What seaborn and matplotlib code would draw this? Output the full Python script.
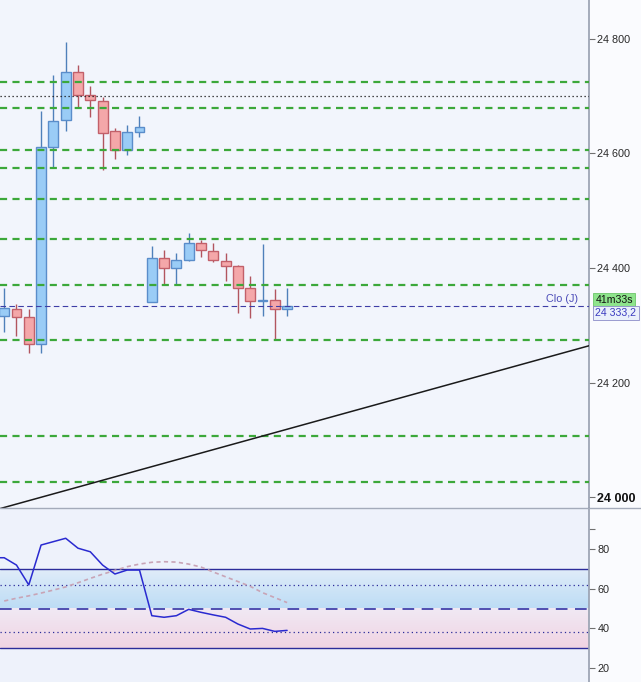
import numpy as np
import pandas as pd
import matplotlib
matplotlib.use("Agg")
import matplotlib.pyplot as plt
from matplotlib.colors import LinearSegmentedColormap
from matplotlib.lines import Line2D
import seaborn as sns

# candles (index, open, high, low, close)
opens = [24316, 24328, 24314, 24267, 24611, 24658, 24742, 24702, 24691, 24639, 24606, 24637,
         24340, 24417, 24400, 24414, 24443, 24429, 24412, 24403, 24366, 24342, 24345, 24328]
highs = [24365, 24337, 24328, 24674, 24737, 24794, 24755, 24718, 24699, 24644, 24649, 24666,
         24438, 24431, 24426, 24461, 24449, 24443, 24426, 24405, 24386, 24442, 24363, 24365]
lows = [24289, 24282, 24252, 24252, 24575, 24639, 24680, 24664, 24572, 24591, 24598, 24629,
        24340, 24372, 24372, 24412, 24419, 24410, 24378, 24322, 24312, 24316, 24274, 24316]
closes = [24330, 24314, 24267, 24611, 24656, 24742, 24702, 24693, 24635, 24606, 24637, 24646,
          24417, 24400, 24414, 24443, 24431, 24414, 24403, 24366, 24342, 24345, 24328, 24333.2]

# horizontal levels
green_levels = [24724, 24680, 24606, 24575, 24520, 24451, 24370, 24274, 24106, 24026]
dotted_level = 24700
last_close = 24333.2
trend_x = [-1, 48]
trend_y = [23976, 24267]
price_ticks = [24000, 24200, 24400, 24600, 24800]
price_labels = ["24 000", "24 200", "24 400", "24 600", "24 800"]

# RSI panel
rsi = [75.6, 71.9, 61.9, 82.0, 83.7, 85.4, 80.4, 78.6, 71.9, 67.4, 69.4, 69.4,
       46.4, 45.6, 46.4, 49.6, 48.1, 46.8, 45.6, 42.2, 39.7, 40.0, 38.5, 39.0]
rsi_signal = [53.8, 55.2, 56.4, 57.8, 59.3, 60.9, 63.0, 65.2, 67.3, 69.2, 71.1, 72.4,
              73.3, 73.6, 73.4, 72.4, 70.9, 68.4, 66.0, 63.6, 61.2, 58.0, 55.5, 53.0]
rsi_prev = 75.6  # value of the bar before the first visible candle
rsi_ticks = [20, 40, 60, 80, 90]
rsi_labels = ["20", "40", "60", "80", ""]

df = pd.DataFrame({"idx": np.arange(len(opens)), "open": opens, "high": highs,
                   "low": lows, "close": closes, "rsi": rsi, "sig": rsi_signal})
rsi_line = pd.DataFrame({"idx": np.arange(-1, len(rsi)), "rsi": [rsi_prev] + rsi})

sns.set_theme(style="white")
plt.rcParams["font.family"] = ["Liberation Sans", "DejaVu Sans"]

fig = plt.figure(figsize=(6.41, 6.82), dpi=100, facecolor="#FAFBFE")
ax = fig.add_axes([0, 1 - 508 / 682, 589 / 641, 508 / 682])
ax2 = fig.add_axes([0, 0, 589 / 641, 174 / 682])
xlim = (-0.34, 47.54)

# --- price panel ---
ax.set_facecolor("#F2F5FC")
up = df["close"] >= df["open"]
for is_up, fill, edge, wick in [(True, "#9ACCF6", "#5A8DCA", "#4F80BA"),
                                (False, "#F4A7A9", "#C2606A", "#B2555F")]:
    sub = df[up == is_up]
    ax.vlines(sub["idx"], sub["low"], sub["high"], color=wick, lw=1.0, zorder=2)
    ax.bar(sub["idx"], (sub["close"] - sub["open"]).abs().clip(lower=2.5),
           bottom=sub[["open", "close"]].min(axis=1), width=0.8,
           color=fill, edgecolor=edge, linewidth=1.0, zorder=3)

for lvl in green_levels:
    ax.axhline(lvl, color="#3CA83A", lw=1.6, linestyle=(0, (3.2, 2.4)), zorder=4)
ax.axhline(dotted_level, color="#111111", lw=0.9, linestyle=(0, (1, 2.2)), zorder=4)
ax.axhline(last_close, color="#3E3EA6", lw=0.8, linestyle=(0, (5, 3)), zorder=4)
sns.lineplot(x=trend_x, y=trend_y, ax=ax, color="#1A1A1A", lw=1.1, zorder=4)

ax.set_xlim(*xlim)
ax.set_ylim(23981, 24868)
ax.yaxis.tick_right()
ax.set_yticks(price_ticks, price_labels)
ax.set_xticks([])
ax.tick_params(axis="y", right=True, length=4, width=0.8, color="#707070",
               labelsize=7.8, labelcolor="#2A2A2A", pad=2)
lab0 = ax.get_yticklabels()[0]
lab0.set_fontweight("bold")
lab0.set_fontsize(9.0)
lab0.set_color("#111111")
for s in ["top", "left", "bottom"]:
    ax.spines[s].set_visible(False)
ax.spines["right"].set_color("#9AA2B2")
ax.set_xlabel("")
ax.set_ylabel("")

ytr = ax.get_yaxis_transform()
ax.text(0.981, last_close + 4, "Clo (J)", transform=ytr, ha="right", va="bottom",
        fontsize=7.8, color="#4B4BB8")
ax.text(1.011, last_close + 1.5, "41m33s", transform=ytr, ha="left", va="bottom",
        fontsize=7.6, color="#111111", clip_on=False,
        bbox=dict(boxstyle="square,pad=0.2", fc="#8EE48C", ec="#6CC46A", lw=0.6))
ax.text(1.011, last_close - 2.5, "24 333,2", transform=ytr, ha="left", va="top",
        fontsize=7.6, color="#3A3AC0", clip_on=False,
        bbox=dict(boxstyle="square,pad=0.2", fc="#EAF0FB", ec="#8C8CC8", lw=0.6))

# --- RSI panel ---
ax2.set_facecolor("#EEF2FB")
grad = np.linspace(0, 1, 64).reshape(-1, 1)
blue_cmap = LinearSegmentedColormap.from_list("b", ["#BCDCF5", "#E0ECF9"])
pink_cmap = LinearSegmentedColormap.from_list("p", ["#F0D4E3", "#F1E9F4"])
ax2.imshow(grad, extent=[xlim[0], xlim[1], 50, 70], origin="lower", aspect="auto",
           cmap=blue_cmap, zorder=0)
ax2.imshow(grad, extent=[xlim[0], xlim[1], 30, 50], origin="lower", aspect="auto",
           cmap=pink_cmap, zorder=0)

for lvl in [70, 30]:
    ax2.axhline(lvl, color="#2C2C9A", lw=1.0, zorder=2)
for lvl in [61.8, 38.2]:
    ax2.axhline(lvl, color="#2C2C9A", lw=0.9, linestyle=(0, (1, 2.5)), zorder=2)
ax2.axhline(50, color="#3434A6", lw=1.2, linestyle=(0, (7, 4.5)), zorder=2)

sns.lineplot(data=df, x="idx", y="sig", ax=ax2, color="#C8A4B6", lw=1.2,
             linestyle=(0, (2.5, 2)), zorder=3)
sns.lineplot(data=rsi_line, x="idx", y="rsi", ax=ax2, color="#2A2AD0", lw=1.1, zorder=4)

ax2.set_xlim(*xlim)
ax2.set_ylim(13.0, 100.65)
ax2.yaxis.tick_right()
ax2.set_yticks(rsi_ticks, rsi_labels)
ax2.set_xticks([])
ax2.tick_params(axis="y", right=True, length=4, width=0.8, color="#707070",
                labelsize=7.8, labelcolor="#2A2A2A", pad=2)
for s in ["top", "left", "bottom"]:
    ax2.spines[s].set_visible(False)
ax2.spines["right"].set_color("#9AA2B2")
ax2.set_xlabel("")
ax2.set_ylabel("")

# panel separator across the full width
fig.add_artist(Line2D([0, 1], [1 - 508 / 682, 1 - 508 / 682], transform=fig.transFigure,
                      color="#A4ABBA", lw=1.0))

fig.savefig("out.png", dpi=100, facecolor=fig.get_facecolor())
